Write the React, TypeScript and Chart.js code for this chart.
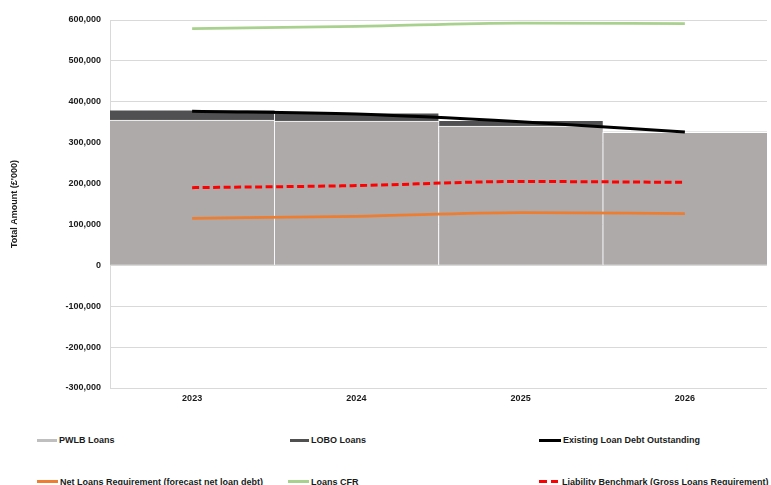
import React, { useEffect, useRef } from "react";
import { Chart, registerables } from "chart.js";

Chart.register(...registerables);

// Financial years shown on the category axis
const years = ["2023", "2024", "2025", "2026"];

// Stacked loan balances (£'000)
const pwlbLoans = [355000, 352500, 340500, 325000];
const loboLoans = [23000, 19000, 12500, 2000];

// Line series (£'000)
const existingDebt = [377000, 370000, 351000, 326000];
const netLoansRequirement = [115000, 120000, 129000, 126500];
const loansCFR = [579000, 584500, 592500, 591000];
const liabilityBenchmark = [190000, 195000, 205000, 203000];

// Value axis range
const yMin = -300000;
const yMax = 600000;
const yStep = 100000;

const FONT = "'Liberation Sans', Arial, Helvetica, sans-serif";
const TEXT = "#1a1a1a";

type LegendItem = {
  label: string;
  color: string;
  left: number;
  top: number;
  markerWidth: number;
  dashed?: boolean;
};

const legendItems: LegendItem[] = [
  { label: "PWLB Loans", color: "#BFBFBF", left: 37, top: 440, markerWidth: 20 },
  { label: "LOBO Loans", color: "#505050", left: 290, top: 440, markerWidth: 19 },
  { label: "Existing Loan Debt Outstanding", color: "#000000", left: 539, top: 440, markerWidth: 22 },
  { label: "Net Loans Requirement (forecast net loan debt)", color: "#ED7D31", left: 37, top: 481.5, markerWidth: 21 },
  { label: "Loans CFR", color: "#A9D18E", left: 288, top: 481.5, markerWidth: 21 },
  { label: "Liability Benchmark (Gross Loans Requirement)", color: "#FF0000", left: 539, top: 481.5, markerWidth: 21, dashed: true },
];

export default function App() {
  const canvasRef = useRef<HTMLCanvasElement | null>(null);

  useEffect(() => {
    if (!canvasRef.current) return;
    const lastIndex = years.length - 1;

    const chart = new Chart(canvasRef.current, {
      type: "bar",
      data: {
        labels: years,
        datasets: [
          {
            type: "line",
            label: "Existing Loan Debt Outstanding",
            data: existingDebt,
            borderColor: "#000000",
            borderWidth: 3,
            pointRadius: 0,
            cubicInterpolationMode: "monotone",
            stack: "existing",
            order: 1,
          },
          {
            type: "line",
            label: "Net Loans Requirement (forecast net loan debt)",
            data: netLoansRequirement,
            borderColor: "#ED7D31",
            borderWidth: 2.75,
            pointRadius: 0,
            cubicInterpolationMode: "monotone",
            stack: "net",
            order: 1,
          },
          {
            type: "line",
            label: "Loans CFR",
            data: loansCFR,
            borderColor: "#A9D18E",
            borderWidth: 2.75,
            pointRadius: 0,
            cubicInterpolationMode: "monotone",
            stack: "cfr",
            order: 1,
          },
          {
            type: "line",
            label: "Liability Benchmark (Gross Loans Requirement)",
            data: liabilityBenchmark,
            borderColor: "#FF0000",
            borderWidth: 3,
            borderDash: [7, 3.5],
            pointRadius: 0,
            cubicInterpolationMode: "monotone",
            stack: "benchmark",
            order: 1,
          },
          {
            type: "bar",
            label: "PWLB Loans",
            data: pwlbLoans,
            backgroundColor: "#AEAAAA",
            borderColor: "#FFFFFF",
            borderSkipped: false,
            borderWidth: (ctx: any) => ({
              top: 1,
              bottom: 0,
              right: 0,
              left: ctx.dataIndex > 0 ? 1 : 0,
            }),
            barPercentage: 1,
            categoryPercentage: 1,
            stack: "loans",
            order: 2,
          },
          {
            type: "bar",
            label: "LOBO Loans",
            data: loboLoans,
            backgroundColor: (ctx: any) => (ctx.dataIndex === lastIndex ? "#7F7F7F" : "#505052"),
            borderColor: "#FFFFFF",
            borderSkipped: false,
            borderWidth: (ctx: any) => ({
              top: 0,
              bottom: 0,
              right: 0,
              left: ctx.dataIndex > 0 ? 1 : 0,
            }),
            barPercentage: 1,
            categoryPercentage: 1,
            stack: "loans",
            order: 2,
          },
        ],
      } as any,
      options: {
        animation: false,
        responsive: false,
        maintainAspectRatio: false,
        layout: { padding: { top: 20, right: 4, bottom: 0, left: 0 } },
        plugins: {
          legend: { display: false },
          tooltip: { enabled: false },
        },
        scales: {
          x: {
            stacked: true,
            offset: true,
            grid: { display: false, drawTicks: false },
            border: { display: false },
            ticks: {
              padding: 5,
              color: TEXT,
              font: { family: FONT, size: 9, weight: "bold" },
            },
            afterFit: (s: any) => {
              s.height = 22;
            },
          },
          y: {
            stacked: true,
            min: yMin,
            max: yMax,
            grid: { color: "#D9D9D9", lineWidth: 1, drawTicks: false },
            border: { display: true, color: "#D9D9D9", width: 1 },
            ticks: {
              stepSize: yStep,
              padding: 9,
              color: TEXT,
              font: { family: FONT, size: 9, weight: "bold" },
              callback: (v: any) => Number(v).toLocaleString("en-US"),
            },
            title: {
              display: true,
              text: "Total Amount (£'000)",
              color: TEXT,
              font: { family: FONT, size: 9, weight: "bold" },
              padding: { top: 9, bottom: 0 },
            },
            afterFit: (s: any) => {
              s.width = 110;
            },
          },
        },
      } as any,
    });

    return () => chart.destroy();
  }, []);

  return (
    <div
      style={{
        position: "absolute",
        left: 0,
        top: 0,
        width: 771,
        height: 485,
        overflow: "hidden",
        background: "#FFFFFF",
        fontFamily: FONT,
      }}
    >
      <canvas ref={canvasRef} width={771} height={410} style={{ display: "block" }} />
      {legendItems.map((item) => (
        <div
          key={item.label}
          style={{
            position: "absolute",
            left: item.left,
            top: item.top - 6,
            height: 12,
            display: "flex",
            alignItems: "center",
            whiteSpace: "nowrap",
            fontSize: 9,
            fontWeight: "bold",
            color: TEXT,
          }}
        >
          {item.dashed ? (
            <span style={{ display: "flex", width: item.markerWidth, marginRight: 2 }}>
              <span style={{ width: 8, height: 3, background: item.color }} />
              <span style={{ width: 4 }} />
              <span style={{ width: 7, height: 3, background: item.color }} />
            </span>
          ) : (
            <span
              style={{
                display: "inline-block",
                width: item.markerWidth,
                height: 3,
                background: item.color,
                marginRight: 2,
              }}
            />
          )}
          <span>{item.label}</span>
        </div>
      ))}
    </div>
  );
}
